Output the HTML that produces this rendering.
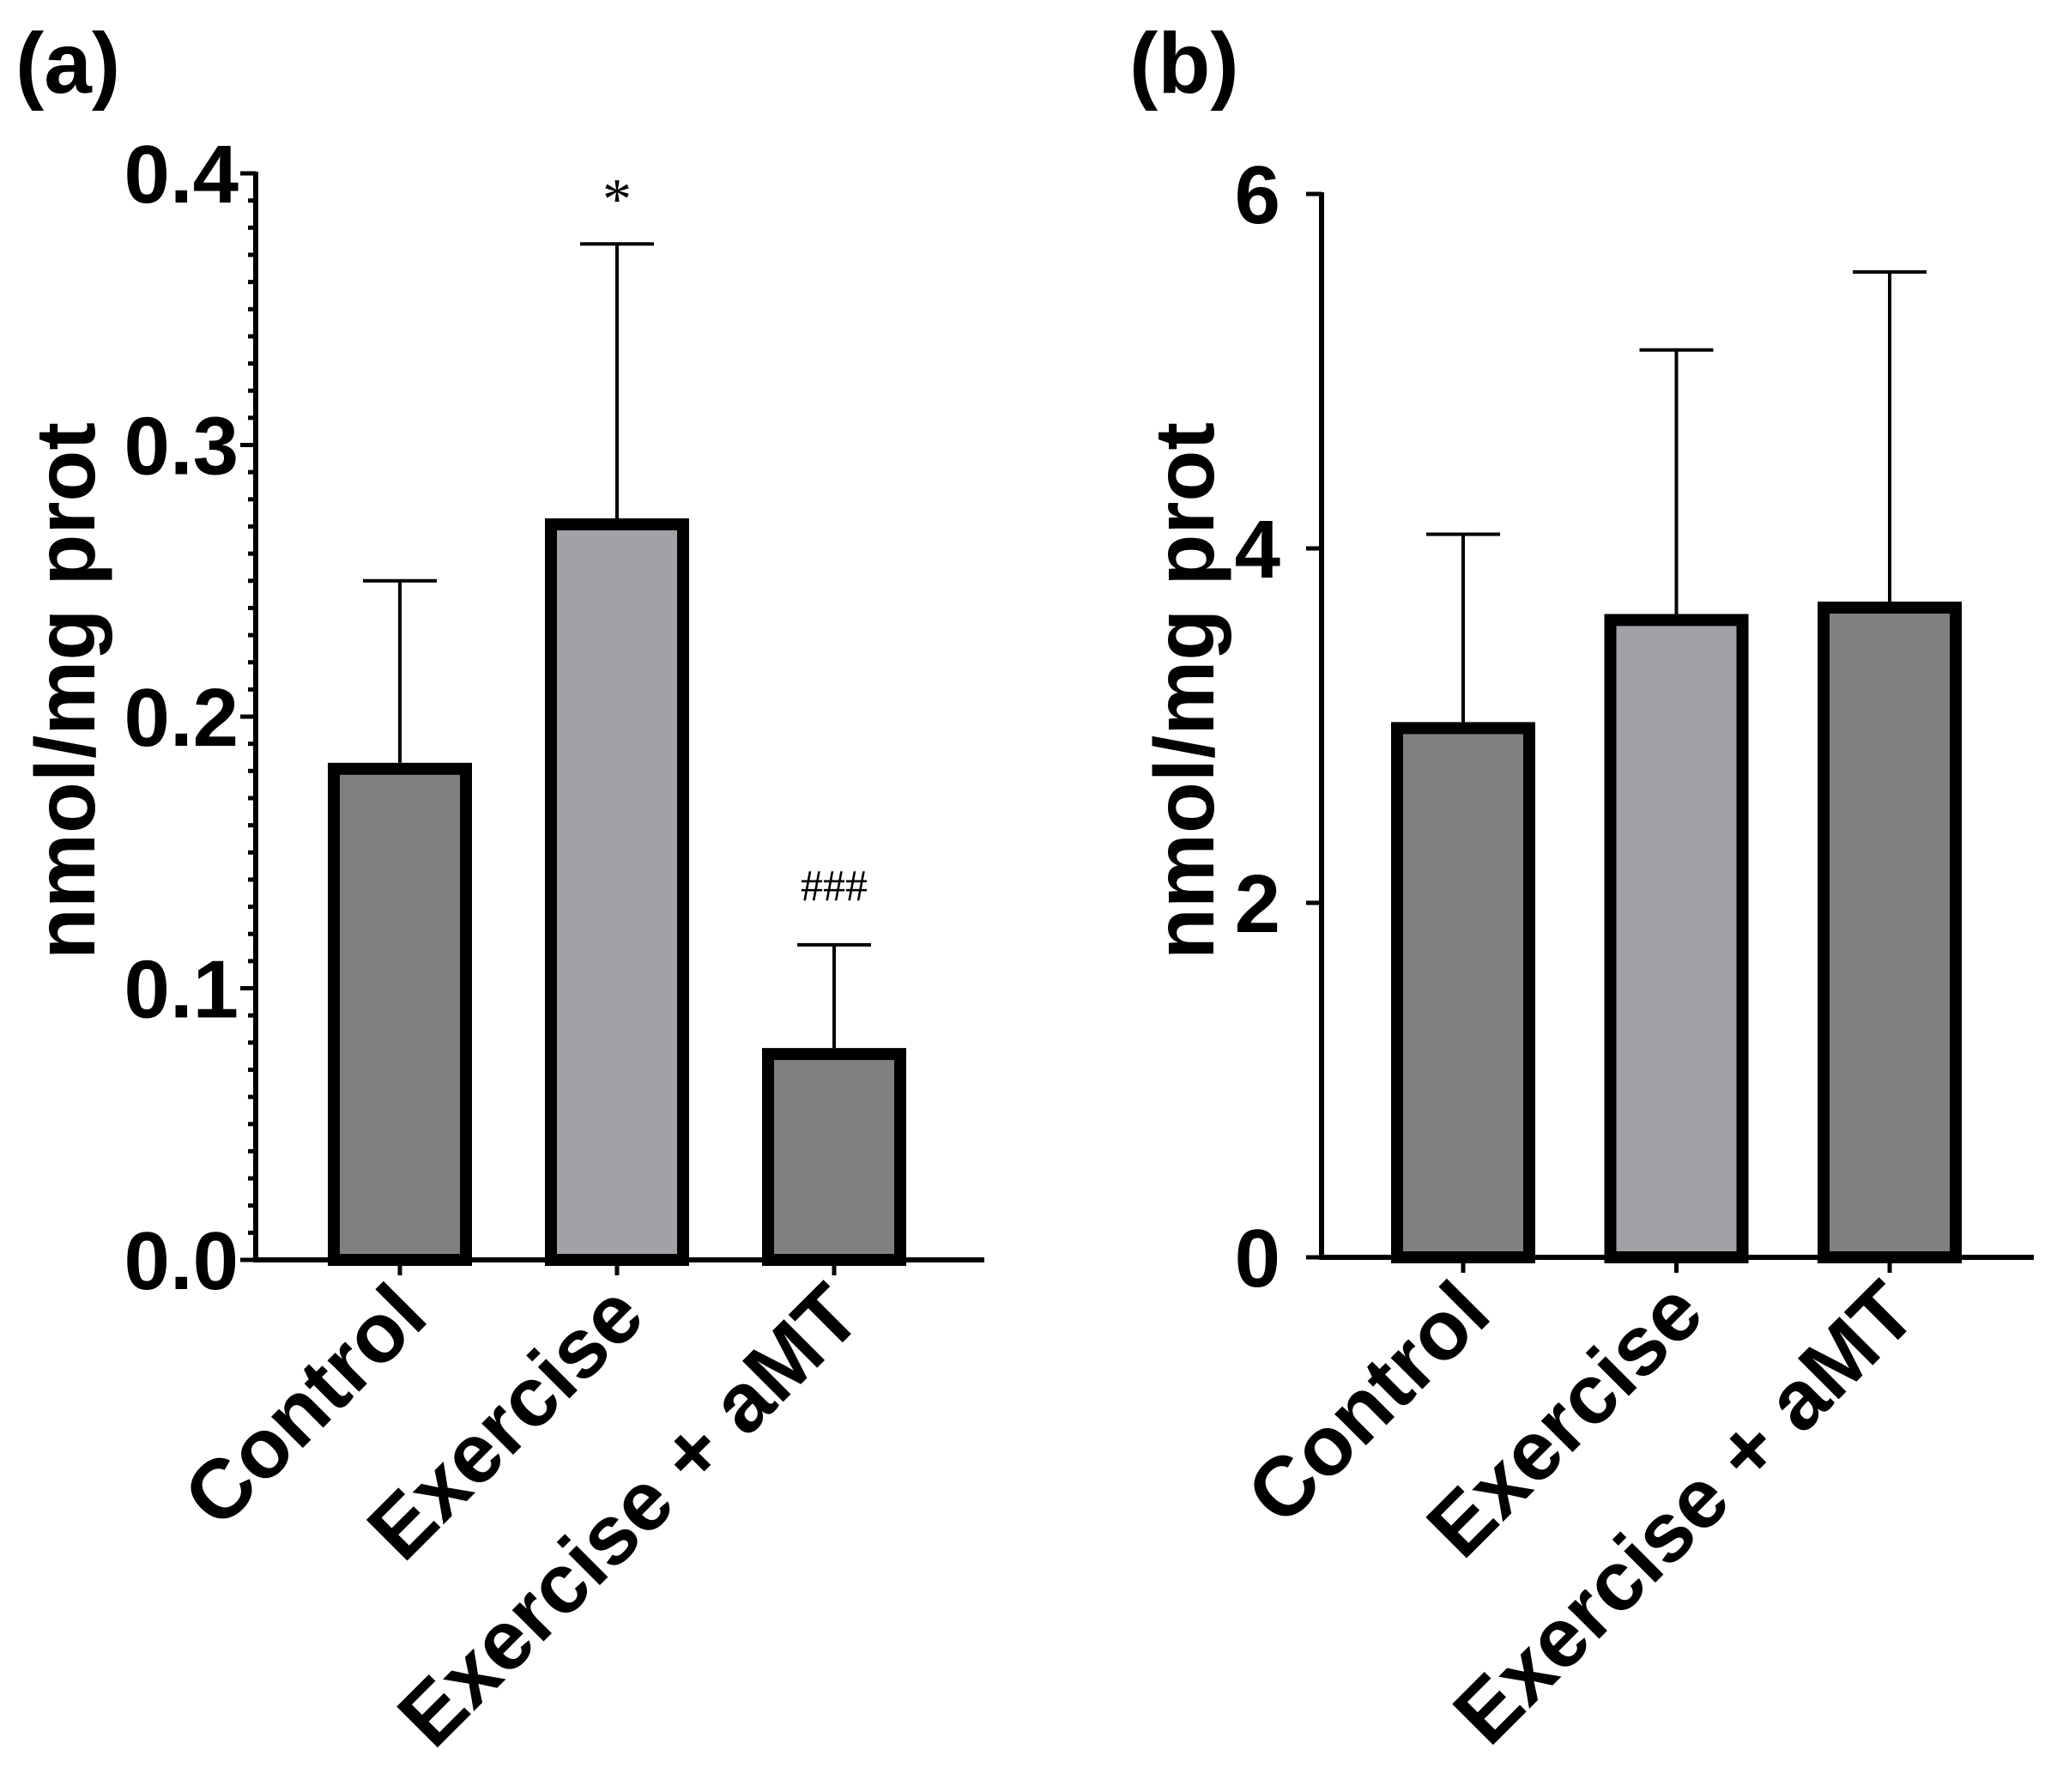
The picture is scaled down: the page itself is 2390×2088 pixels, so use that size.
<!DOCTYPE html>
<html><head><meta charset="utf-8"><style>
html,body{margin:0;padding:0;background:#fff}
svg{display:block;font-family:"Liberation Sans",Arial,sans-serif}
</style></head><body>
<svg id="chart" width="2390" height="2088" viewBox="0 0 2390 2088"></svg>
<script>
const categories = ["Control", "Exercise", "Exercise + aMT"];
const valuesA = [0.183, 0.273, 0.078];
const errorsA = [0.067, 0.101, 0.038];
const marksA = ["", "*", "###"];
const ticksA = ["0.0", "0.1", "0.2", "0.3", "0.4"];
const valuesB = [3.02, 3.63, 3.70];
const errorsB = [1.06, 1.49, 1.86];
const ticksB = ["0", "2", "4", "6"];
const fills = ["#808080", "#a2a1a6", "#808080"];

const NS = "http://www.w3.org/2000/svg";
const svg = document.getElementById("chart");
function mk(tag, attrs, parent) {
  const e = document.createElementNS(NS, tag);
  for (const k in attrs) e.setAttribute(k, attrs[k]);
  (parent || svg).appendChild(e);
  return e;
}

function panel(cfg) {
  const g = mk("g", {});
  
  
  const y = v => cfg.y0 - (v - cfg.min) / (cfg.max - cfg.min) * (cfg.y0 - cfg.yTop);
  const lt = mk("text", {x: cfg.letterX, y: 108, "font-size": 100, "font-weight": "bold"}, g);
  lt.textContent = cfg.letter;
  
  
  const yt = mk("text", {x: cfg.titleX, y: 805, "font-size": 98, "font-weight": "bold", "text-anchor": "middle", transform: `rotate(-90 ${cfg.titleX} 805)`, "dominant-baseline": "central"}, g);
  yt.textContent = "nmol/mg prot";
  
  
  if (cfg.minor) {
    for (let i = 0; i <= Math.round((cfg.max - cfg.min) / cfg.minor); i++) {
      const v = cfg.min + i * cfg.minor;
      const mt = mk("line", {x1: cfg.axisX - 9, x2: cfg.axisX, y1: y(v), y2: y(v), stroke: "#000", "stroke-width": 5}, g);
      
      
    }
  }
  cfg.ticks.forEach(t => {
    const v = parseFloat(t);
    const tk = mk("line", {x1: cfg.axisX - 18, x2: cfg.axisX, y1: y(v), y2: y(v), stroke: "#000", "stroke-width": 5}, g);
    
    
    const tl = mk("text", {x: cfg.axisX - cfg.labelGap, y: y(v) + 34, "font-size": 96, "font-weight": "bold", "text-anchor": "end"}, g);
    tl.textContent = t;
    
    
  });
  const ya = mk("line", {x1: cfg.axisX, x2: cfg.axisX, y1: y(cfg.max) - 2, y2: cfg.y0 + 3, stroke: "#000", "stroke-width": 6}, g);
  
  
  const xa = mk("line", {x1: cfg.axisX - 3, x2: cfg.axisEnd, y1: cfg.y0, y2: cfg.y0, stroke: "#000", "stroke-width": 6}, g);
  
  
  categories.forEach((c, i) => {
    const cx = cfg.x0 + i * cfg.step;
    const v = cfg.values[i], top = y(v), et = y(v + cfg.errors[i]);
    const el = mk("line", {x1: cx, x2: cx, y1: et, y2: top, stroke: "#000", "stroke-width": 4}, g);
    
    
    const cap = mk("line", {x1: cx - 43, x2: cx + 43, y1: et, y2: et, stroke: "#000", "stroke-width": 4}, g);
    
    
    const b = mk("rect", {x: cx - 77, y: top + 7, width: 154, height: cfg.y0 - top - 7, fill: fills[i], stroke: "#000", "stroke-width": 14}, g);
    
    
    const xt = mk("line", {x1: cx, x2: cx, y1: cfg.y0, y2: cfg.y0 + 18, stroke: "#000", "stroke-width": 5}, g);
    
    
    const lx = cx + 36, ly = cfg.y0 + 70;
    const cl = mk("text", {x: lx, y: ly, "font-size": 98, "font-weight": "bold", "text-anchor": "end", transform: `rotate(-45 ${lx} ${ly})`}, g);
    cl.textContent = c;
    
    
    if (cfg.marks && cfg.marks[i]) {
      const big = cfg.marks[i] === "*";
      const m = mk("text", {x: cx, y: et - (big ? 30 : 52), "font-size": big ? 68 : 52, "text-anchor": "middle", "font-family": "Liberation Serif, serif"}, g);
      m.textContent = cfg.marks[i];
      
      
    }
  });
}

panel({name: "panel-a", letter: "(a)", letterX: 18, titleX: 76, axisX: 298, axisEnd: 1147, labelGap: 20,
  y0: 1468, yTop: 202, min: 0, max: 0.4, minor: 0.01, ticks: ticksA,
  values: valuesA, errors: errorsA, marks: marksA, x0: 466, step: 253});
panel({name: "panel-b", letter: "(b)", letterX: 1316, titleX: 1380, axisX: 1540, axisEnd: 2370, labelGap: 48,
  y0: 1465, yTop: 226, min: 0, max: 6, minor: 0, ticks: ticksB,
  values: valuesB, errors: errorsB, marks: null, x0: 1705, step: 248.5});
</script>
</body></html>
